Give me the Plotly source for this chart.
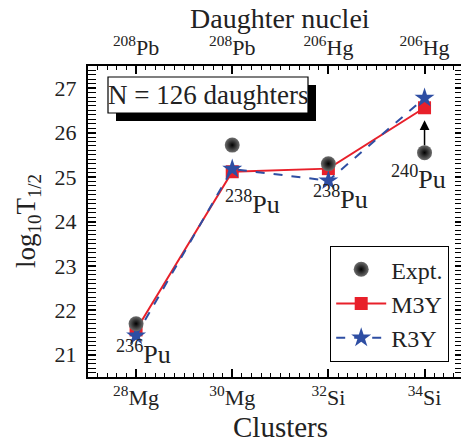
import plotly.graph_objects as go

clusters = [28, 30, 32, 34]
cluster_labels = ["<sup>28</sup>Mg", "<sup>30</sup>Mg", "<sup>32</sup>Si", "<sup>34</sup>Si"]
daughter_labels = ["<sup>208</sup>Pb", "<sup>208</sup>Pb", "<sup>206</sup>Hg", "<sup>206</sup>Hg"]
parent_labels = ["<sup>236</sup>Pu", "<sup>238</sup>Pu", "<sup>238</sup>Pu", "<sup>240</sup>Pu"]
expt = [21.70, 25.72, 25.30, 25.55]
m3y = [21.56, 25.12, 25.19, 26.56]
r3y = [21.43, 25.18, 24.92, 26.78]

FONT = "Liberation Serif"
RED = "#e8202a"
BLUE = "#2e4ea3"
TXT = "#222"

# page body has an 8px margin; plot area in window: x 88..463, y 66..377
PL, PR, PT, PB = 88, 463, 66, 377
PW, PH = PR - PL, PB - PT


def px(x):
    return (x - PL) / PW


def py(y):
    return (PB - y) / PH


fig = go.Figure()
fig.add_trace(go.Scatter(
    x=clusters, y=m3y, name="M3Y", mode="lines+markers",
    line=dict(color=RED, width=2),
    marker=dict(symbol="square", size=13, color=RED),
    legendrank=2,
))
fig.add_trace(go.Scatter(
    x=clusters, y=r3y, name="R3Y", mode="lines+markers",
    line=dict(color=BLUE, width=2, dash="dash"),
    marker=dict(symbol="star", size=15, color=BLUE),
    legendrank=3,
))
fig.add_trace(go.Scatter(
    x=clusters, y=expt, name="Expt.", mode="markers",
    marker=dict(symbol="circle", size=15, color="#6e6e6e",
                gradient=dict(type="radial", color="#000000")),
    legendrank=1,
))
# invisible trace for the top axis
fig.add_trace(go.Scatter(x=clusters, y=expt, xaxis="x2", mode="markers",
                         marker=dict(opacity=0), showlegend=False, hoverinfo="skip"))

axis_common = dict(
    showline=True, linecolor="black", linewidth=2,
    ticks="inside", ticklen=8, tickwidth=1.5, tickcolor="black",
    showgrid=False, zeroline=False, automargin=False,
    tickfont=dict(family=FONT, size=22, color=TXT),
)

fig.update_layout(
    width=461, height=437,
    margin=dict(l=PL - 8, r=461 - (PR - 8), t=PT - 8, b=437 - (PB - 8)),
    paper_bgcolor="white", plot_bgcolor="white",
    font=dict(family=FONT, color=TXT),
    xaxis=dict(
        **axis_common, range=[27, 34.8], tickmode="array",
        tickvals=clusters, ticktext=cluster_labels, mirror=False,
        minor=dict(ticks="inside", dtick=0.2, tick0=0, ticklen=4, tickwidth=1.2, tickcolor="black"),
    ),
    xaxis2=dict(
        **axis_common, range=[27, 34.8], overlaying="x", side="top", anchor="y",
        tickmode="array", tickvals=clusters, ticktext=daughter_labels,
        minor=dict(ticks="inside", dtick=0.2, tick0=0, ticklen=4, tickwidth=1.2, tickcolor="black"),
    ),
    yaxis=dict(
        **axis_common, range=[20.5, 27.5], dtick=1, mirror="allticks",
        ticklabelstandoff=5,
        minor=dict(ticks="inside", dtick=0.1, ticklen=4, tickwidth=1.2, tickcolor="black"),
    ),
    legend=dict(
        x=px(449), y=py(362), xanchor="right", yanchor="bottom",
        bordercolor="black", borderwidth=1.2, bgcolor="white",
        font=dict(family=FONT, size=24, color=TXT),
        itemwidth=50, tracegroupgap=0,
    ),
    showlegend=True,
)

# Axis titles
fig.add_annotation(x=px(280), y=py(19), xref="paper", yref="paper",
                   text="Daughter nuclei", showarrow=False, xanchor="center", yanchor="middle",
                   font=dict(family=FONT, size=28, color=TXT))
fig.add_annotation(x=px(280), y=py(427), xref="paper", yref="paper",
                   text="Clusters", showarrow=False, xanchor="center", yanchor="middle",
                   font=dict(family=FONT, size=29, color=TXT))
fig.add_annotation(x=px(28), y=py(221), xref="paper", yref="paper",
                   text="log<sub>10</sub>T<sub>1/2</sub>", showarrow=False, textangle=-90,
                   xanchor="center", yanchor="middle",
                   font=dict(family=FONT, size=27, color=TXT))

# Parent nuclei labels
label_pos = [(28.15, 21.05), (30.42, 24.42), (32.25, 24.53), (33.88, 25.0)]
for (lx, ly), t in zip(label_pos, parent_labels):
    fig.add_annotation(x=lx, y=ly, text=t, showarrow=False,
                       font=dict(family=FONT, size=26, color=TXT))

# Arrow from expt to M3Y for 34Si
fig.add_annotation(x=34, y=26.28, ax=34, ay=25.68, axref="x", ayref="y",
                   xref="x", yref="y", showarrow=True, arrowhead=2,
                   arrowsize=1.3, arrowwidth=1.5, arrowcolor="black", text="")

# Text box with shadow
fig.add_shape(type="rect", xref="paper", yref="paper",
              x0=px(116), x1=px(316), y0=py(121), y1=py(85),
              fillcolor="black", line=dict(width=0), layer="above")
fig.add_shape(type="rect", xref="paper", yref="paper",
              x0=px(108), x1=px(308), y0=py(113), y1=py(77),
              fillcolor="white", line=dict(color="black", width=1.2), layer="above")
fig.add_annotation(x=px(208), y=py(95), xref="paper", yref="paper",
                   text="N = 126 daughters", showarrow=False, xanchor="center", yanchor="middle",
                   font=dict(family=FONT, size=27, color=TXT))

fig.write_html("out.html")
